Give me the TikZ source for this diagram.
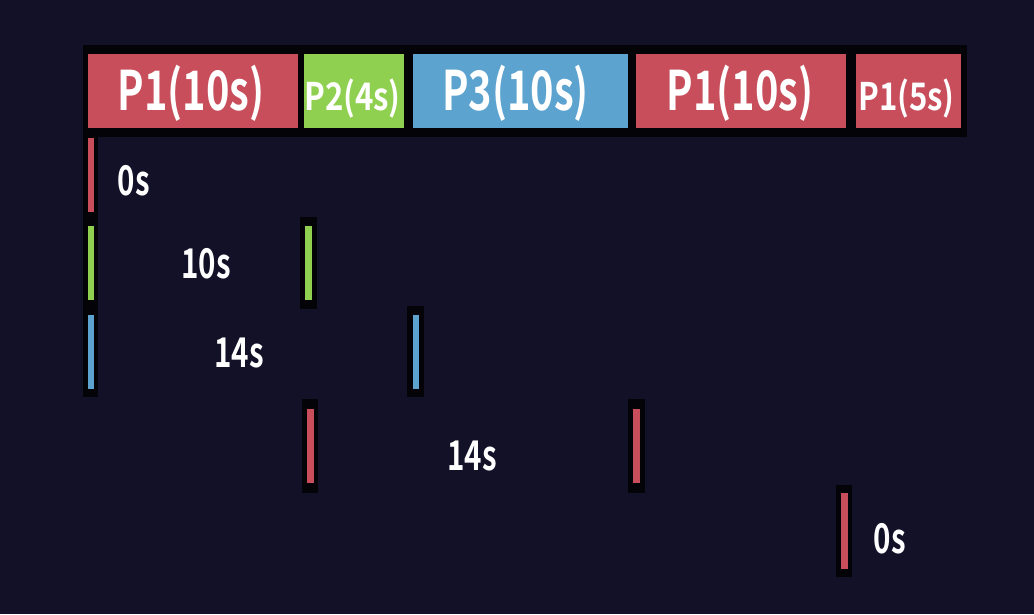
\documentclass[tikz,border=0pt]{standalone}
\usepackage{fontspec}
\newfontfamily\bigfont{Noto Sans CJK KR Bold}[FakeStretch=0.73]
\newfontfamily\smallfont{Noto Sans CJK KR Bold}[FakeStretch=0.82]
\newfontfamily\lblfont{Noto Sans CJK KR Bold}[FakeStretch=0.72]
\definecolor{bgc}{RGB}{19,17,40}
\definecolor{pred}{RGB}{200,78,92}
\definecolor{pgreen}{RGB}{144,208,80}
\definecolor{pblue}{RGB}{92,163,207}
\definecolor{backc}{RGB}{4,3,8}
\tikzset{
  backing/.style={fill=backc, inner sep=0pt, outer sep=0pt},
  pbox/.style={inner sep=0pt, outer sep=0pt, minimum height=74pt},
  tbar/.style={inner sep=0pt, outer sep=0pt, minimum width=6.5pt, minimum height=74pt},
  bigtxt/.style={text=white, font=\bigfont\fontsize{54.5}{54.5}\selectfont, anchor=base, inner sep=0pt},
  smalltxt/.style={text=white, font=\smallfont\fontsize{38}{38}\selectfont, anchor=base, inner sep=0pt},
  lbltxt/.style={text=white, font=\lblfont\fontsize{41}{41}\selectfont, anchor=base, inner sep=0pt}
}
\begin{document}
\begin{tikzpicture}[x=1pt,y=-1pt]
\useasboundingbox (0,0) rectangle (1034,614);
\fill[bgc] (0,0) rectangle (1034,614);
% black backings
\node[backing, minimum width=884pt, minimum height=92pt] (topback) at (525,91) {};
\node[backing, minimum width=15pt, minimum height=352pt] (leftback) at (90.5,221) {};
\node[backing, minimum width=17pt, minimum height=92pt] (b2) at (308.5,263) {};
\node[backing, minimum width=17pt, minimum height=91pt] (b3) at (415.5,351.5) {};
\node[backing, minimum width=16pt, minimum height=94pt] (b4a) at (310,446) {};
\node[backing, minimum width=17pt, minimum height=94pt] (b4b) at (636.5,446) {};
\node[backing, minimum width=16pt, minimum height=92pt] (b5) at (844,531) {};
% process boxes
\node[pbox, fill=pred, minimum width=210pt] (p1a) at (193,91) {};
\node[pbox, fill=pgreen, minimum width=100pt] (p2) at (354,91) {};
\node[pbox, fill=pblue, minimum width=215pt] (p3) at (520.5,91) {};
\node[pbox, fill=pred, minimum width=210pt] (p1b) at (741,91) {};
\node[pbox, fill=pred, minimum width=105pt] (p1c) at (908.5,91) {};
\node[bigtxt] (t1) at (191,110) {P1(10s)};
\node[smalltxt] (t2) at (352.5,110) {P2(4s)};
\node[bigtxt] (t3) at (515.5,110) {P3(10s)};
\node[bigtxt] (t4) at (740,110) {P1(10s)};
\node[smalltxt] (t5) at (906.5,110) {P1(5s)};
% timeline bars
\node[tbar, fill=pred] (r1a) at (91,175) {};
\node[tbar, fill=pgreen] (r2a) at (91,263) {};
\node[tbar, fill=pgreen] (r2b) at (308.5,263) {};
\node[tbar, fill=pblue] (r3a) at (91,352) {};
\node[tbar, fill=pblue] (r3b) at (416,352) {};
\node[tbar, fill=pred] (r4a) at (310.5,446) {};
\node[tbar, fill=pred] (r4b) at (636.5,446) {};
\node[tbar, fill=pred, minimum height=76pt] (r5) at (844.5,531) {};
% wait labels
\node[lbltxt] (w1) at (134,195) {0s};
\node[lbltxt] (w2) at (206,278) {10s};
\node[lbltxt] (w3) at (239,367) {14s};
\node[lbltxt] (w4) at (472,470) {14s};
\node[lbltxt] (w5) at (890,553) {0s};
\end{tikzpicture}
\end{document}
